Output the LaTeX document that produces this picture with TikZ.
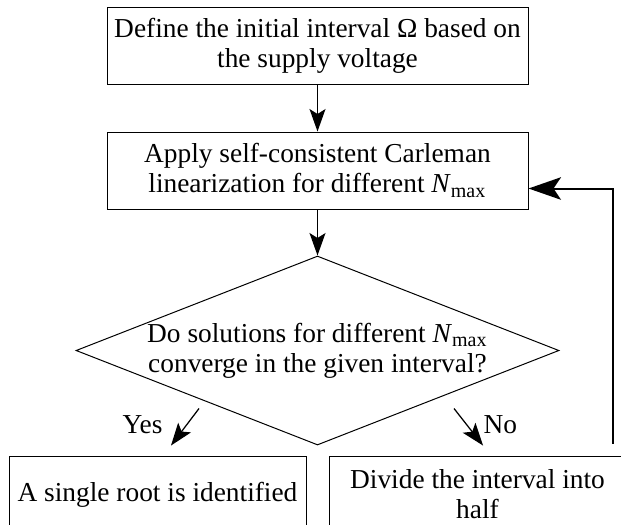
\documentclass[tikz,border=0pt]{standalone}
\usepackage{fontspec}
\setmainfont{Liberation Serif}
\usetikzlibrary{positioning, arrows.meta, shapes.geometric}
\newcommand{\Nmax}{\textit{N}\textsubscript{max}}

\begin{document}
\begin{tikzpicture}[
  font=\fontsize{10.95pt}{12pt}\selectfont,
  node distance=18.8pt and 8.8pt,
  process/.style={rectangle, draw, minimum width=168.4pt,
                  minimum height=30.8pt, align=center, inner sep=2pt},
  decision/.style={diamond, draw, aspect=2.55, inner sep=0pt,
                   minimum width=193.2pt, minimum height=75.6pt,
                   align=center},
  result/.style={rectangle, draw, minimum width=118.8pt,
                 minimum height=30.8pt, align=center, inner sep=2pt},
  arr/.style={-{Stealth[length=9pt, width=6.4pt, inset=2pt]}, line width=0.5pt},
  backarr/.style={-{Stealth[length=13pt, width=9pt, inset=3pt]}, line width=0.8pt}
]
  \useasboundingbox (0,0) rectangle (248.4pt,-209.6pt);
  \clip (0,0) rectangle (248.4pt,-209.6pt);

  \node[process] (defineInterval) at (127pt,-18.2pt)
    {Define the initial interval Ω based on\\the supply voltage};
  \node[process, below=of defineInterval] (applyCarleman)
    {Apply self-consistent Carleman\\linearization for different \Nmax};
  \node[decision, below=18.4pt of applyCarleman] (converge)
    {Do solutions for different \Nmax\\converge in the given interval?};
  \node[result, below left=4pt and 4.4pt of converge.south] (singleRoot)
    {A single root is identified};
  \node[result, below right=4pt and 4.4pt of converge.south] (halveInterval)
    {Divide the interval into\\half};

  % edges
  \draw[arr] (defineInterval) -- (applyCarleman);
  \draw[arr] (applyCarleman)  -- (converge);
  \draw[arr] ([shift={(16.6pt,18.8pt)}]singleRoot.north)
    -- node[pos=0.45, left=6pt]{Yes} ([shift={(5.4pt,4pt)}]singleRoot.north);
  \draw[arr] ([shift={(-9.4pt,18.8pt)}]halveInterval.north)
    -- node[pos=0.45, right=3pt]{No} ([shift={(2.2pt,4pt)}]halveInterval.north);
  \draw[backarr] ([shift={(54pt,4.8pt)}]halveInterval.north)
    |- ([yshift=-7.2pt]applyCarleman.east);
\end{tikzpicture}
\end{document}
